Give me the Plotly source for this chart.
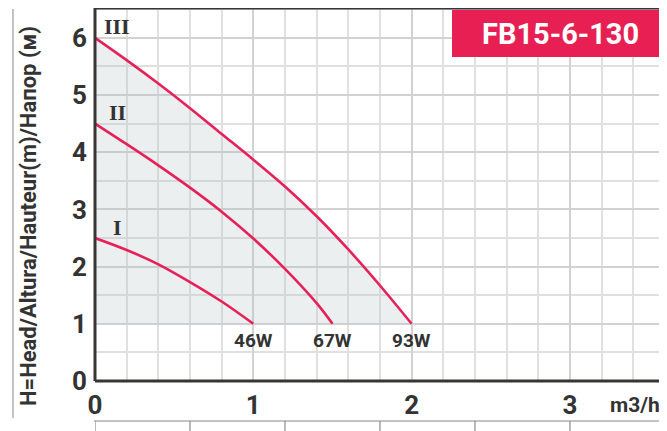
import plotly.graph_objects as go

# pump curves (flow m3/h, head m)
flow_1 = [0, 0.2, 0.4, 0.6, 0.8, 1.0]
head_1 = [2.5, 2.29, 2.04, 1.73, 1.39, 1.0]
flow_2 = [0, 0.2, 0.4, 0.6, 0.8, 1.0, 1.2, 1.4, 1.5]
head_2 = [4.5, 4.14, 3.77, 3.38, 2.96, 2.49, 1.96, 1.36, 1.0]
flow_3 = [0, 0.2, 0.4, 0.6, 0.8, 1.0, 1.2, 1.4, 1.6, 1.8, 2.0]
head_3 = [6.0, 5.61, 5.2, 4.77, 4.32, 3.87, 3.40, 2.88, 2.30, 1.67, 1.0]

speed_labels = ["I", "II", "III"]
power_labels = ["46W", "67W", "93W"]
model = "FB15-6-130"

RED = "#e6215a"
DARK = "#3a3435"
TXT = "#333333"
FONT = "Liberation Sans Narrow, Roboto, sans-serif"

# the page body has an 8px margin, so the figure is 8px smaller and
# everything below is given in page pixels and shifted back by 8
OFF = 8
W, H = 667 - OFF, 431 - OFF
PX_L, PX_R, PX_T, PX_B = 95, 667, 8, 381


def px(x):
    return (x - PX_L) / (PX_R - PX_L)


def py(y):
    return (PX_B - y) / (PX_B - PX_T)


y_top = (PX_B - PX_T) / 57.2

fig = go.Figure()

# shaded working area between curve III and 1 m
fig.add_trace(go.Scatter(x=[flow_3[0], flow_3[-1]], y=[head_3[-1], head_3[-1]],
                         mode="lines", line=dict(width=0), hoverinfo="skip"))
fig.add_trace(go.Scatter(x=flow_3, y=head_3, mode="lines", line=dict(width=0, shape="spline"),
                         fill="tonexty", fillcolor="rgba(180,190,190,0.25)", hoverinfo="skip"))

curves = [(flow_1, head_1), (flow_2, head_2), (flow_3, head_3)]
for i, (fx, hy) in enumerate(curves):
    fig.add_trace(go.Scatter(x=fx, y=hy, mode="lines",
                             line=dict(color=RED, width=2.6, shape="spline")))
    # roman speed label above the start of the curve
    fig.add_annotation(x=0.14, y=hy[0] + 0.19, text=speed_labels[i], showarrow=False,
                       xanchor="center", yanchor="middle",
                       font=dict(family="Liberation Serif, serif", size=22, color=TXT, weight="bold"))
    # power label under the end of the curve
    fig.add_annotation(x=fx[-1], y=hy[-1] - 0.3, text=power_labels[i], showarrow=False,
                       xanchor="center", yanchor="middle",
                       font=dict(family=FONT, size=19, color=TXT, weight="bold"))

# model badge
fig.add_shape(type="rect", xref="paper", yref="paper", x0=px(452), x1=1.0, y0=py(57), y1=py(10),
              fillcolor="#e71f53", line=dict(width=0))
fig.add_annotation(xref="paper", yref="paper", x=px(560), y=py(34), text=model, showarrow=False,
                   xanchor="center", yanchor="middle",
                   font=dict(family=FONT, size=29, color="white", weight="bold"))

# frame
for x0, y0, x1, y1 in [(0, 0, 1, 0), (0, 0, 0, 1), (0, 1, 1, 1)]:
    fig.add_shape(type="line", xref="paper", yref="paper", x0=x0, y0=y0, x1=x1, y1=y1,
                  line=dict(color=DARK, width=3))

# decorative lines outside plot
fig.add_shape(type="line", xref="paper", yref="paper", x0=px(13), x1=px(13), y0=py(418), y1=py(9),
              line=dict(color="#9a9a9a", width=1.2))
fig.add_shape(type="line", xref="paper", yref="paper", x0=px(94), x1=1, y0=py(421), y1=py(421),
              line=dict(color="#8a8a8a", width=1.2))
for t in [0, 0.6, 1.2, 1.8, 2.4, 3.0, 3.6]:
    fig.add_shape(type="line", xref="x", yref="paper", x0=t, x1=t, y0=py(421), y1=py(432),
                  line=dict(color="#8a8a8a", width=1.2))

fig.add_annotation(xref="paper", yref="paper", x=px(662), y=py(405), xanchor="right", yanchor="middle",
                   text="m3/h", showarrow=False,
                   font=dict(family=FONT, size=21, color=TXT, weight="bold"))

# y axis title as rotated text
fig.add_annotation(xref="paper", yref="paper", x=px(29), y=py(216), textangle=-90,
                   xanchor="center", yanchor="middle",
                   text="H=Head/Altura/Hauteur(m)/Напор (м)", showarrow=False,
                   font=dict(family=FONT, size=22, color=TXT, weight="bold"))

fig.update_xaxes(range=[0, 3.613], dtick=1, tick0=0, showgrid=True, gridcolor="#d2d2d2",
                 gridwidth=2, zeroline=False, showline=False, ticks="", ticklabelstandoff=6,
                 automargin=False,
                 tickfont=dict(family=FONT, size=26, color=TXT, weight="bold"),
                 minor=dict(dtick=0.2, showgrid=True, gridcolor="#e0e0e0", gridwidth=1.5))
fig.update_yaxes(range=[0, y_top], dtick=1, tick0=0, showgrid=True, gridcolor="#d2d2d2",
                 gridwidth=2, zeroline=False, showline=False, ticks="", ticklabelstandoff=7,
                 automargin=False,
                 tickfont=dict(family=FONT, size=26, color=TXT, weight="bold"),
                 minor=dict(dtick=0.5, showgrid=True, gridcolor="#e0e0e0", gridwidth=1.5))

fig.update_layout(width=W, height=H,
                  margin=dict(l=PX_L - OFF, r=667 - PX_R, t=PX_T - OFF, b=431 - PX_B),
                  plot_bgcolor="white", paper_bgcolor="white", showlegend=False)

fig.write_html("out.html")
